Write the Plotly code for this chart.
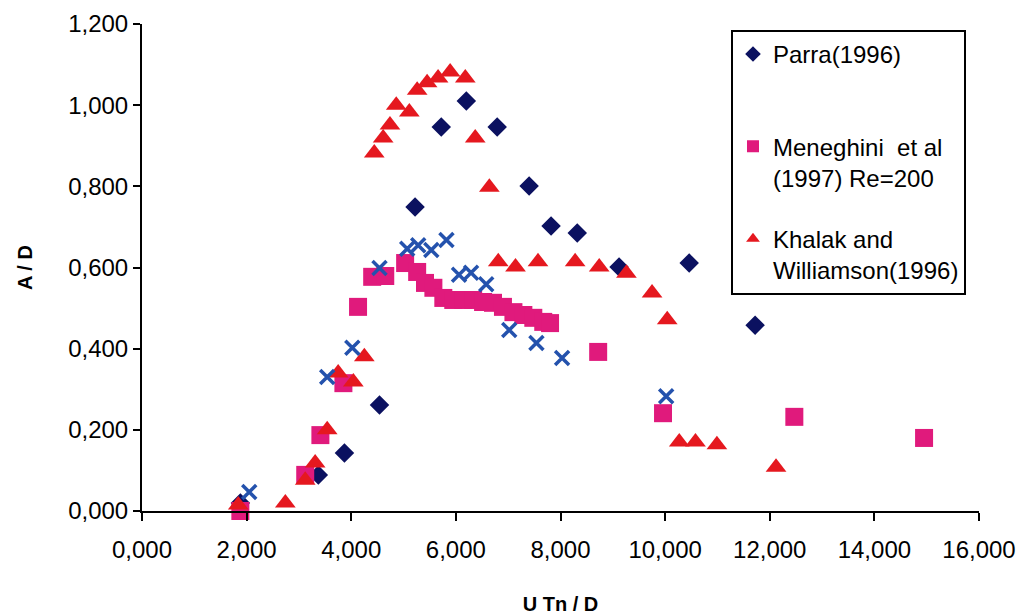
import plotly.graph_objects as go

# Reduced velocity U Tn / D and amplitude ratio A / D for each data set
parra_x = [1.88, 3.37, 3.87, 4.54, 5.22, 5.72, 6.20, 6.79, 7.40, 7.82, 8.32, 9.12, 10.46, 11.72]
parra_y = [0.020, 0.089, 0.143, 0.261, 0.749, 0.946, 1.010, 0.946, 0.801, 0.702, 0.685, 0.601, 0.611, 0.458]

men_x = [1.88, 3.12, 3.41, 3.85, 4.13, 4.40, 4.65, 5.03, 5.26, 5.41, 5.57, 5.76, 5.95, 6.14,
         6.33, 6.52, 6.71, 6.90, 7.10, 7.29, 7.48, 7.67, 7.80, 8.72, 9.96, 12.47, 14.95]
men_y = [0.000, 0.089, 0.187, 0.315, 0.503, 0.577, 0.579, 0.611, 0.589, 0.562, 0.550, 0.525, 0.520, 0.520,
         0.520, 0.515, 0.513, 0.503, 0.490, 0.483, 0.476, 0.466, 0.463, 0.392, 0.241, 0.232, 0.180]

kw_x = [1.84, 2.74, 3.12, 3.31, 3.54, 3.75, 4.04, 4.25, 4.44, 4.61, 4.74, 4.86, 5.11, 5.26, 5.45, 5.66,
        5.89, 6.18, 6.37, 6.64, 6.81, 7.14, 7.57, 8.28, 8.74, 9.26, 9.75, 10.04, 10.27, 10.58, 10.99, 12.12]
kw_y = [0.015, 0.020, 0.076, 0.118, 0.200, 0.340, 0.318, 0.380, 0.882, 0.919, 0.951, 1.000, 0.983, 1.037, 1.055, 1.067,
        1.082, 1.067, 0.919, 0.798, 0.614, 0.601, 0.614, 0.614, 0.601, 0.586, 0.537, 0.471, 0.170, 0.170, 0.163, 0.108]

cross_x = [2.05, 3.54, 4.02, 4.54, 5.07, 5.28, 5.53, 5.82, 6.06, 6.29, 6.58, 7.02, 7.54, 8.03, 10.02]
cross_y = [0.047, 0.330, 0.402, 0.599, 0.646, 0.655, 0.643, 0.668, 0.582, 0.587, 0.559, 0.446, 0.414, 0.377, 0.283]

x_ticks = [0, 2, 4, 6, 8, 10, 12, 14, 16]
x_tick_text = ["0,000", "2,000", "4,000", "6,000", "8,000", "10,000", "12,000", "14,000", "16,000"]
y_ticks = [0, 0.2, 0.4, 0.6, 0.8, 1.0, 1.2]
y_tick_text = ["0,000", "0,200", "0,400", "0,600", "0,800", "1,000", "1,200"]

FONT = "Liberation Sans, Arial, sans-serif"

fig = go.Figure()
fig.add_trace(go.Scatter(
    x=parra_x, y=parra_y, mode="markers", name="Parra(1996)<br> ", legendgroup="g1",
    marker=dict(symbol="diamond", size=15, color="#0b1160"),
    cliponaxis=False,
))
fig.add_trace(go.Scatter(
    x=men_x, y=men_y, mode="markers", name="Meneghini  et al<br>(1997) Re=200", legendgroup="g2",
    marker=dict(symbol="square", size=18, color="#e01a7c"),
    cliponaxis=False,
))
fig.add_trace(go.Scatter(
    x=kw_x, y=kw_y, mode="markers", name="Khalak and<br>Williamson(1996)", legendgroup="g3",
    marker=dict(symbol="triangle-up", size=18, color="#e5181f"),
    cliponaxis=False,
))
fig.add_trace(go.Scatter(
    x=cross_x, y=cross_y, mode="markers", showlegend=False,
    marker=dict(symbol="x-thin-open", size=14, color="#2452ad",
                line=dict(width=3.5, color="#2452ad")),
    cliponaxis=False,
))

fig.update_layout(
    width=1026, height=615,
    margin=dict(l=142, r=47, t=24, b=104, autoexpand=False),
    paper_bgcolor="white", plot_bgcolor="white",
    font=dict(family=FONT, size=24, color="black"),
    showlegend=True,
    legend=dict(
        x=0.7037, y=0.988, xanchor="left", yanchor="top",
        bgcolor="white", bordercolor="black", borderwidth=2,
        font=dict(family=FONT, size=24, color="black"),
        valign="top", tracegroupgap=27, traceorder="grouped",
        itemsizing="constant",
    ),
    xaxis=dict(
        range=[0, 16], tickmode="array", tickvals=x_ticks, ticktext=x_tick_text,
        showgrid=False, zeroline=False, showline=True, linecolor="black", linewidth=2,
        ticks="outside", ticklen=8, tickwidth=2, tickcolor="black",
        ticklabelstandoff=8, automargin=False,
        title=dict(text="<b>U Tn / D</b>", font=dict(family=FONT, size=20), standoff=38),
    ),
    yaxis=dict(
        range=[0, 1.2], tickmode="array", tickvals=y_ticks, ticktext=y_tick_text,
        showgrid=False, zeroline=False, showline=True, linecolor="black", linewidth=2,
        ticks="outside", ticklen=7, tickwidth=2, tickcolor="black", automargin=False,
        title=dict(text="<b>A / D</b>", font=dict(family=FONT, size=20), standoff=30),
    ),
)

fig.write_html("out.html")
